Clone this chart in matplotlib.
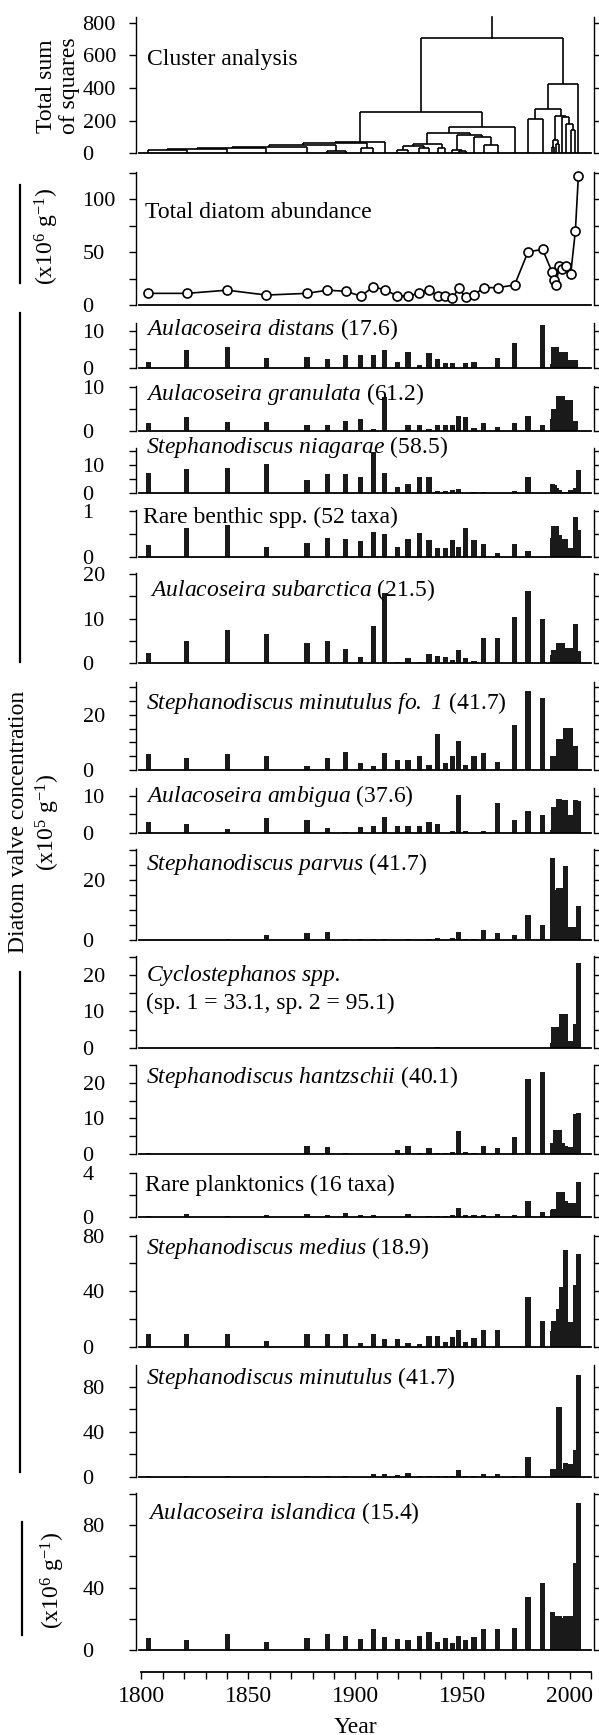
import matplotlib
matplotlib.use('Agg')
import matplotlib.pyplot as plt
from matplotlib.ticker import MultipleLocator
from matplotlib.lines import Line2D

plt.rcParams['font.family'] = ['Liberation Serif', 'DejaVu Serif']
plt.rcParams['mathtext.fontset'] = 'custom'
plt.rcParams['mathtext.rm'] = 'Liberation Serif'
plt.rcParams['mathtext.it'] = 'Liberation Serif:italic'
# \mathsf is used for the italic species names so digits/periods stay italic too
plt.rcParams['mathtext.sf'] = 'Liberation Serif:italic'
plt.rcParams['mathtext.bf'] = 'Liberation Serif:bold'

# ---- data ----
years = [1803.2, 1821.2, 1840.1, 1858.4, 1877.3, 1886.8, 1895.4, 1902.4, 1908.4, 1913.7,
         1919.5, 1924.5, 1929.9, 1934.4, 1938.4, 1942.0, 1945.2, 1948.2, 1951.5, 1955.4,
         1959.9, 1966.4, 1974.3, 1980.6, 1987.4, 1991.9, 1992.8, 1993.7, 1995.1, 1996.4,
         1998.2, 2000.5, 2002.7, 2004.1]

# constrained cluster analysis: (left, right, total sum of squares); ids >= len(years) are earlier merges
cluster_merges = [
    (0, 1, 20), (34, 2, 25), (35, 3, 35), (36, 4, 40), (5, 6, 15), (37, 38, 50),
    (7, 8, 30), (39, 40, 65), (41, 9, 71), (10, 11, 20), (12, 13, 35), (43, 44, 45),
    (14, 15, 30), (45, 46, 57), (17, 18, 15), (16, 48, 20), (20, 21, 51), (19, 50, 102),
    (49, 51, 112), (47, 52, 122), (53, 22, 163), (42, 54, 255), (23, 24, 208),
    (25, 26, 40), (27, 28, 55), (57, 58, 82), (31, 32, 143), (30, 60, 180),
    (29, 61, 220), (59, 62, 229), (56, 63, 273), (64, 33, 425), (55, 65, 708),
]

total_abundance = [11, 11, 14, 9.4, 11, 14, 13, 8.5, 17, 14.5, 8.5, 8.5, 11, 14.5, 8.5, 8.5,
                   6.3, 15.7, 7.2, 9.4, 16.4, 16.4, 18.9, 50.3, 52.5, 30.8, 23.6, 18.9, 36.8,
                   34, 36.8, 28.9, 70, 122]

a_distans = [1.8, 4.9, 5.6, 2.7, 2.9, 2.4, 3.4, 3.4, 3.4, 4.9, 1.8, 4.4, 0.9, 4.0, 2.4, 1.5, 1.5,
             0, 1.5, 1.8, 0, 2.7, 6.8, 0, 11.5, 1.2, 5.6, 5.6, 2.2, 4.4, 4.4, 2.2, 2.2, 0]
a_granulata = [1.7, 3.2, 2.0, 2.0, 1.2, 1.2, 2.3, 2.7, 0.4, 7.8, 0, 1.4, 1.4, 0.4, 1.2, 1.2, 1.2,
               3.4, 3.2, 0.7, 1.7, 0.8, 1.8, 3.5, 1.4, 2.8, 5.0, 5.0, 8.1, 8.1, 7.1, 7.1, 2.2, 0]
s_niagarae = [7.3, 8.5, 8.8, 10.2, 4.7, 6.8, 6.8, 5.9, 14.7, 7.3, 2.4, 3.2, 5.9, 5.9, 0.8, 0.8, 1.2,
              1.4, 0, 0.5, 0.5, 0, 0.7, 5.9, 0, 3.2, 3.0, 1.8, 1.0, 0.6, 0.5, 1.2, 1.8, 8.2]
rare_benthic = [0.25, 0.63, 0.69, 0.2, 0.3, 0.41, 0.38, 0.34, 0.53, 0.49, 0.2, 0.38, 0.51, 0.36,
                0.18, 0.18, 0.36, 0.22, 0.62, 0.36, 0.28, 0.09, 0.28, 0.13, 0, 0.41, 0.67, 0.67,
                0.47, 0.38, 0.38, 0.18, 0.87, 0.59]
a_subarctica = [2.2, 5.1, 7.5, 6.5, 4.5, 5.1, 3.2, 1.5, 8.4, 15.7, 0.2, 1.1, 0.2, 2.0, 1.6, 1.5,
                0.8, 3.0, 1.1, 0.5, 5.6, 5.6, 10.4, 16.2, 9.9, 1.9, 3.0, 3.0, 4.5, 4.5, 3.5, 3.5,
                8.8, 2.8]
s_minutulus_fo1 = [5.7, 4.5, 5.7, 5.2, 1.5, 4.5, 6.7, 2.4, 1.5, 6.1, 3.6, 3.6, 5.2, 1.8, 13.1, 2.4,
                   5.2, 10.5, 1.8, 5.2, 6.1, 2.8, 16.4, 28.8, 26.3, 5.2, 5.2, 4.5, 11.3, 11.3,
                   15.2, 15.2, 8.7, 0]
a_ambigua = [3.0, 2.5, 0.9, 4.1, 3.5, 1.2, 0.3, 1.6, 1.9, 4.4, 1.9, 1.9, 1.9, 3.0, 2.5, 0, 0.5,
             10.3, 0.5, 0, 0.5, 8.0, 3.5, 5.9, 4.8, 0.7, 7.1, 7.1, 9.1, 8.9, 8.9, 4.8, 8.9, 8.6]
s_parvus = [0, 0, 0.2, 1.7, 2.2, 2.6, 0.3, 0.4, 0.4, 0.4, 0, 0.4, 0, 0.4, 0.5, 0, 0.5, 2.6, 0.4,
            0.4, 3.3, 2.2, 1.8, 8.3, 5.0, 27.4, 16.7, 16.7, 17.2, 17.2, 24.7, 4.4, 4.4, 11.4]
cyclostephanos = [0, 0, 0, 0, 0, 0, 0, 0, 0, 0, 0.2, 0, 0, 0, 0.2, 0, 0, 0, 0, 0, 0, 0, 0, 0, 0,
                  1.4, 5.8, 5.8, 0.5, 9.3, 9.3, 1.8, 6.4, 23.4]
s_hantzschii = [0.2, 0, 0, 0, 2.2, 1.9, 0.2, 0, 0, 0, 1.1, 2.2, 0.4, 1.6, 0.4, 0.4, 0.5, 6.4, 0.5,
                0.2, 2.2, 1.6, 4.9, 21, 23.1, 3.0, 3.0, 6.7, 6.7, 3.0, 2.2, 2.0, 11.1, 11.6]
rare_planktonics = [0.06, 0.25, 0.06, 0.12, 0.25, 0.15, 0.37, 0.15, 0.15, 0, 0, 0.25, 0, 0.1, 0.1,
                    0.1, 0.15, 0.77, 0.15, 0.15, 0.15, 0.25, 0.15, 1.48, 0.46, 0.62, 0.68, 0.68,
                    2.3, 2.3, 1.45, 1.23, 1.3, 3.17]
s_medius = [8.9, 8.9, 8.9, 4.3, 8.9, 8.9, 8.9, 2.9, 8.9, 5.3, 5.3, 2.9, 1.9, 7.9, 7.9, 3.1, 6.7,
            12, 3.6, 6.5, 12, 12, 0, 36, 18.7, 11.5, 18.7, 18.7, 27.3, 43, 69.5, 18, 44.4, 67]
s_minutulus = [0.5, 1.0, 0.5, 1.0, 1.0, 0.5, 1.0, 0, 2.4, 2.7, 1.5, 3.6, 1.0, 1.0, 1.0, 1.0, 1.0,
               5.9, 1.0, 1.0, 2.4, 2.4, 0.5, 17.2, 0, 6.8, 6.8, 6.8, 61.6, 6.8, 11.9, 11, 23.7, 90.4]
a_islandica = [7.9, 6.4, 10, 5.3, 7.9, 10, 9.2, 7.0, 13.2, 8.5, 7.0, 6.4, 9.2, 11.3, 5.3, 7.9, 4.7,
               9.2, 6.4, 8.5, 13.2, 13.2, 13.9, 34.1, 42.6, 24.1, 18.6, 21.7, 21.7, 20.3, 21.7,
               21.7, 55.4, 93.8]

# ---- layout (pixels of the 599x1735 picture) ----
W, H = 599, 1735
AX_L, AX_R = 136, 594
XLIM = (1797.5, 2011.4)
FS = 17      # labels
TFS = 16     # tick labels

fig = plt.figure(figsize=(W / 100, H / 100), dpi=100)


def ftext(x, y, s, **kw):
    return fig.text(x / W, 1 - y / H, s, **kw)


def vline(x, y1, y2):
    fig.add_artist(Line2D([x / W, x / W], [1 - y1 / H, 1 - y2 / H], color='k', lw=1.6))


def panel(y_base, y_top, ytop, major, minor=None):
    ax = fig.add_axes([AX_L / W, 1 - y_base / H, (AX_R - AX_L) / W, (y_base - y_top) / H])
    ax.patch.set_visible(False)
    ax.set_xlim(*XLIM)
    ax.set_ylim(0, ytop)
    ax.spines['top'].set_visible(False)
    for s in ['left', 'right', 'bottom']:
        ax.spines[s].set_linewidth(1.0)
    ax.spines['bottom'].set_linewidth(1.3)
    ax.spines['bottom'].set_bounds(1799, 2010)
    ax.set_xticks([])
    ax.set_yticks(major, labels=[str(v) for v in major])
    if minor:
        ax.yaxis.set_minor_locator(MultipleLocator(minor))
    ax.tick_params(axis='y', which='both', direction='out', length=5, width=1.0,
                   left=True, right=True, labelleft=True, labelright=False,
                   labelsize=TFS, pad=33.5)
    plt.setp(ax.get_yticklabels(), ha='left')
    return ax


# cluster analysis dendrogram
ax = panel(153.3, 17.5, 832, [0, 200, 400, 600, 800])
pos = list(years)
hgt = [0.0] * len(years)
for a, b, h in cluster_merges:
    for c in (a, b):
        ax.plot([pos[c], pos[c]], [hgt[c], h], color='k', lw=1.2, solid_capstyle='butt')
    ax.plot([pos[a], pos[b]], [h, h], color='k', lw=1.2, solid_capstyle='butt')
    pos.append((pos[a] + pos[b]) / 2)
    hgt.append(h)
ax.plot([pos[-1], pos[-1]], [hgt[-1], 832], color='k', lw=1.2, clip_on=False)
ftext(147, 60, 'Cluster analysis', fontsize=FS, va='center')

# total diatom abundance
ax = panel(305, 171.7, 126, [0, 50, 100], 25)
ax.plot(years, total_abundance, '-o', color='k', mfc='white', ms=6.5, mew=1.2, lw=1.2,
        clip_on=False)
ftext(145, 213, 'Total diatom abundance', fontsize=FS, va='center')

bar_panels = [
    # values, baseline px, top px, ylim, major ticks, minor step, label, label x, label y
    (a_distans, 368.3, 322.7, 12.1, [0, 10], 5,
     r'$\mathsf{Aulacoseira\ distans}$ (17.6)', 146, 329),
    (a_granulata, 430.7, 386.5, 10.2, [0, 10], 5,
     r'$\mathsf{Aulacoseira\ granulata}$ (61.2)', 146, 394),
    (s_niagarae, 493.3, 448, 16, [0, 10], 5,
     r'$\mathsf{Stephanodiscus\ niagarae}$ (58.5)', 146, 447.5),
    (rare_benthic, 556.7, 510, 1.015, [0, 1], 0.5,
     'Rare benthic spp. (52 taxa)', 143, 517),
    (a_subarctica, 663.3, 573, 20.2, [0, 10, 20], 5,
     r'$\mathsf{Aulacoseira\ subarctica}$ (21.5)', 149.5, 590.5),
    (s_minutulus_fo1, 770, 682, 32, [0, 20], 5,
     r'$\mathsf{Stephanodiscus\ minutulus\ fo.\ 1}$ (41.7)', 146, 702.5),
    (a_ambigua, 832.7, 788, 12.2, [0, 10], 5,
     r'$\mathsf{Aulacoseira\ ambigua}$ (37.6)', 146, 796),
    (s_parvus, 940, 849, 30.3, [0, 20], 5,
     r'$\mathsf{Stephanodiscus\ parvus}$ (41.7)', 146, 864),
    (cyclostephanos, 1047.7, 956, 25.2, [0, 10, 20], 5,
     r'$\mathsf{Cyclostephanos\ spp.}$', 146, 975),
    (s_hantzschii, 1154, 1064.5, 25.1, [0, 10, 20], 5,
     r'$\mathsf{Stephanodiscus\ hantzschii}$ (40.1)', 146, 1077.3),
    (rare_planktonics, 1216.7, 1173, 4.03, [0, 4], 2,
     'Rare planktonics (16 taxa)', 145, 1185.7),
    (s_medius, 1346.7, 1235, 80.5, [0, 40, 80], 20,
     r'$\mathsf{Stephanodiscus\ medius}$ (18.9)', 146, 1247.7),
    (s_minutulus, 1476.7, 1365, 99.3, [0, 40, 80], 20,
     r'$\mathsf{Stephanodiscus\ minutulus}$ (41.7)', 146, 1378.3),
    (a_islandica, 1650, 1493, 100.5, [0, 40, 80], 20,
     r'$\mathsf{Aulacoseira\ islandica}$ (15.4)', 148, 1512.7),
]

for vals, yb, yt, ytop, major, minor, label, lx, ly in bar_panels:
    ax = panel(yb, yt, ytop, major, minor)
    ax.bar(years, vals, width=2.5, color='#1a1a1a', linewidth=0, clip_on=False)
    ftext(lx, ly, label, fontsize=FS, va='center')

ftext(146, 1003.3, '(sp. 1 = 33.1, sp. 2 = 95.1)', fontsize=FS, va='center')

# year axis
axx = fig.add_axes([AX_L / W, 1 - 1672.3 / H, (AX_R - AX_L) / W, 0.0005])
axx.patch.set_visible(False)
axx.set_xlim(*XLIM)
for s in ['top', 'left', 'right']:
    axx.spines[s].set_visible(False)
axx.spines['bottom'].set_linewidth(1.3)
axx.spines['bottom'].set_bounds(1800, 2010)
axx.set_yticks([])
axx.set_xticks([1800, 1850, 1900, 1950, 2000])
axx.xaxis.set_minor_locator(MultipleLocator(10))
axx.tick_params(axis='x', which='both', direction='out', length=5, width=1.0,
                labelsize=FS, pad=5)
ftext(355, 1727, 'Year', fontsize=FS, ha='center', va='center')

# left-hand axis titles
ftext(46, 86, 'Total sum', fontsize=FS, rotation=90, ha='center', va='center')
ftext(69, 86, 'of squares', fontsize=FS, rotation=90, ha='center', va='center')
ftext(47, 236, r'(x10$^{6}$ g$^{-1}$)', fontsize=FS, rotation=90, ha='center', va='center')
vline(20, 185, 283)
ftext(18.5, 822, 'Diatom valve concentration', fontsize=FS, rotation=90,
      ha='center', va='center')
ftext(47.5, 822, r'(x10$^{5}$ g$^{-1}$)', fontsize=FS, rotation=90, ha='center', va='center')
vline(20, 313, 662)
vline(20, 972, 1472)
ftext(53, 1580, r'(x10$^{6}$ g$^{-1}$)', fontsize=FS, rotation=90, ha='center', va='center')
vline(21.5, 1522, 1635)

fig.savefig('out.png', dpi=100)
